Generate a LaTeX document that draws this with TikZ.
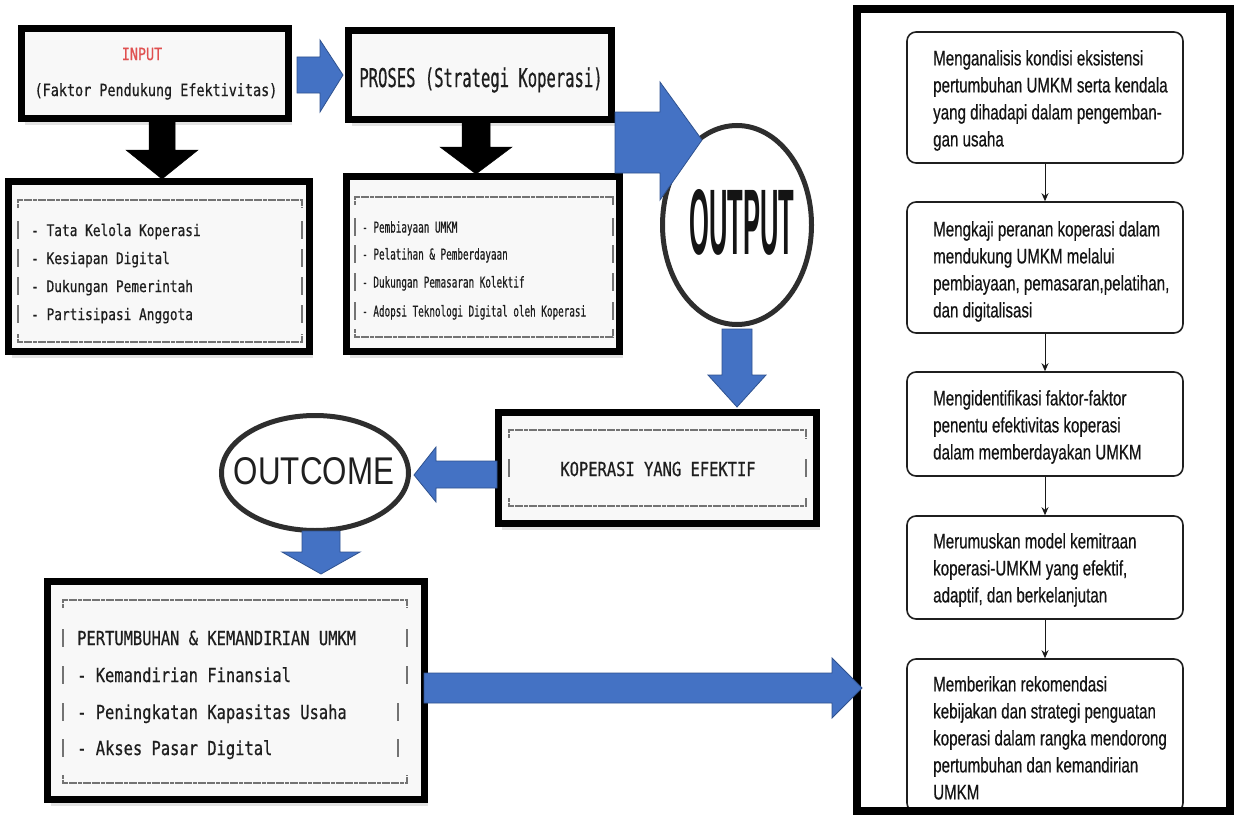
\documentclass[tikz,border=0pt]{standalone}
\usepackage{fontspec}
\newfontfamily\monof[FakeStretch=0.8,FakeBold=0.6]{DejaVu Sans Mono}
\newfontfamily\monoc[FakeStretch=0.62,FakeBold=0.5]{DejaVu Sans Mono}
\newfontfamily\monop[FakeStretch=0.6,FakeBold=0.6]{DejaVu Sans Mono}
\newfontfamily\rfont[FakeStretch=0.72,FakeBold=0.5]{Liberation Sans}
\newfontfamily\sansf{Liberation Sans}
\usetikzlibrary{shadows,shapes.geometric,arrows.meta}
\definecolor{ablue}{HTML}{4472C4}
\definecolor{ablueline}{HTML}{2F528F}
\definecolor{inred}{HTML}{E05050}
\definecolor{boxfill}{HTML}{F8F8F8}
\definecolor{txt}{HTML}{1E1E1E}
\newcommand{\asciiframe}[5]{%
  \draw[asciil] (#1,#2+8) -- (#1,#2) -- (#3,#2) -- (#3,#2+8);
  \draw[asciil] (#1,#4-8) -- (#1,#4) -- (#3,#4) -- (#3,#4-8);
  \foreach \yy in {#5} {
    \draw[asciiv] (#1,\yy-9) -- (#1,\yy+9);
    \draw[asciiv] (#3,\yy-9) -- (#3,\yy+9);
  }%
}
\begin{document}
\begin{tikzpicture}[x=1pt,y=-1pt,
  bbox/.style={draw=black, line width=7pt, fill=boxfill, inner sep=0pt,
    drop shadow={opacity=0.22, shadow xshift=3pt, shadow yshift=-6pt}},
  oval/.style={ellipse, draw=black!82, line width=5pt, fill=white, inner sep=0pt},
  blk/.style={fill=ablue, draw=ablueline, line width=0.8pt},
  blackarrow/.style={fill=black, draw=black, line width=0.5pt},
  asciil/.style={draw=black!55, line width=1.3pt, dash pattern=on 4pt off 0.6pt},
  asciiv/.style={draw=black!55, line width=1.2pt},
  rbox/.style={draw=black!88, line width=1.6pt, rounded corners=9pt, fill=white, inner sep=0pt, minimum width=276pt},
  rtext/.style={anchor=north west, inner sep=0pt, align=left, text=black!92,
    font=\rfont\fontsize{21}{27}\selectfont},
  mtext/.style={anchor=base west, inner sep=0pt, text=txt, font=\monof\fontsize{16}{20}\selectfont},
  ctext/.style={anchor=base west, inner sep=0pt, text=txt, font=\monoc\fontsize{15}{18}\selectfont},
  ktext/.style={anchor=base west, inner sep=0pt, text=txt, font=\monof\fontsize{19.3}{22}\selectfont},
  conn/.style={line width=1pt, draw=black!90, -{Stealth[length=8pt,width=7pt]}}
]
\useasboundingbox (0,0) rectangle (1234,816);
\fill[white] (0,0) rectangle (1234,816);

% ---------- top left boxes ----------
\node[bbox, minimum width=267pt, minimum height=90pt] (inbox) at (155,73.5) {};
\node[bbox, minimum width=263pt, minimum height=89pt] (prbox) at (480,75) {};
\node[inner sep=0pt, text=inred, font=\monof\fontsize{16.8}{20}\selectfont] (intitle) at (142,54) {INPUT};
\node[anchor=base, inner sep=0pt, text=txt, font=\monof\fontsize{16.8}{20}\selectfont] (insub) at (156,96) {(Faktor Pendukung Efektivitas)};
\node[anchor=base, inner sep=0pt, text=txt, font=\monop\fontsize{25.9}{30}\selectfont] (prtitle) at (481,87) {PROSES (Strategi Koperasi)};

% blue arrow input -> proses
\draw[blk] (297,57) -- (320,57) -- (320,40) -- (343,75) -- (320,112) -- (320,93) -- (297,93) -- cycle;

% black arrows down
\draw[blackarrow] (149,120) -- (175,120) -- (175,150) -- (198,150) -- (162,179) -- (126,150) -- (149,150) -- cycle;
\draw[blackarrow] (462,121) -- (490,121) -- (490,147) -- (512,147) -- (476,174) -- (440,147) -- (462,147) -- cycle;

% ---------- factor boxes ----------
\node[bbox, minimum width=301pt, minimum height=170pt] (fbox) at (159,266.5) {};
\asciiframe{18}{200}{302}{342}{230,258,286,314}
\node[mtext] (f1) at (31,236) {- Tata Kelola Koperasi};
\node[mtext] (f2) at (31,264) {- Kesiapan Digital};
\node[mtext] (f3) at (31,292) {- Dukungan Pemerintah};
\node[mtext] (f4) at (31,320) {- Partisipasi Anggota};

\node[bbox, minimum width=273pt, minimum height=175pt] (sbox) at (483,264) {};
\asciiframe{355}{197}{613}{337}{227,254,282,311}
\node[ctext] (s1) at (362,232.5) {- Pembiayaan UMKM};
\node[ctext] (s2) at (362,259.5) {- Pelatihan \& Pemberdayaan};
\node[ctext] (s3) at (362,287.5) {- Dukungan Pemasaran Kolektif};
\node[ctext] (s4) at (362,316.5) {- Adopsi Teknologi Digital oleh Koperasi};

% ---------- OUTPUT ----------
\node[oval, minimum width=149pt, minimum height=199pt] (output) at (737,225) {};
\node[inner sep=0pt, text=black!92] (outputtxt) at (742,222) {\resizebox{105pt}{65pt}{\sansf\bfseries OUTPUT}};
\draw[blk] (615,112) -- (660,112) -- (660,82) -- (702,140) -- (660,200) -- (660,173) -- (615,173) -- cycle;
\draw[blk] (722,329) -- (752,329) -- (752,375) -- (766,375) -- (737,407) -- (708,375) -- (722,375) -- cycle;

% ---------- KOPERASI ----------
\node[bbox, minimum width=318pt, minimum height=111pt] (kbox) at (657.5,468) {};
\asciiframe{509}{430}{806}{506}{468}
\node[inner sep=0pt, text=txt, font=\monof\fontsize{19.3}{22}\selectfont] (ktxt) at (658,469) {KOPERASI YANG EFEKTIF};
\draw[blk] (497,461) -- (436,461) -- (436,447) -- (414,475) -- (436,502) -- (436,488) -- (497,488) -- cycle;

% ---------- OUTCOME ----------
\node[oval, minimum width=187pt, minimum height=115pt] (outcome) at (315,473) {};
\node[inner sep=0pt, text=black!88] (outcometxt) at (314,471) {\resizebox{160pt}{27pt}{\sansf OUTCOME}};
\draw[blk] (302,531) -- (340,531) -- (340,552) -- (360,552) -- (321,574) -- (282,552) -- (302,552) -- cycle;

% ---------- PERTUMBUHAN ----------
\node[bbox, minimum width=377pt, minimum height=218pt] (pbox) at (236,690.5) {};
\draw[asciil] (63,608) -- (63,600) -- (407,600) -- (407,608);
\draw[asciil] (63,775) -- (63,783) -- (407,783) -- (407,775);
\foreach \yy/\xr in {638/407,675/407,712/398,748/398} {
  \draw[asciiv] (63,\yy-9) -- (63,\yy+9);
  \draw[asciiv] (\xr,\yy-9) -- (\xr,\yy+9);
}
\node[ktext] (p1) at (77,645) {PERTUMBUHAN \& KEMANDIRIAN UMKM};
\node[ktext] (p2) at (77,682) {- Kemandirian Finansial};
\node[ktext] (p3) at (77,719) {- Peningkatan Kapasitas Usaha};
\node[ktext] (p4) at (77,755) {- Akses Pasar Digital};

% ---------- right panel ----------
\node[rbox, minimum height=131pt] (r1) at (1045,97.5) {};
\node[rbox, minimum height=131pt] (r2) at (1045,267.5) {};
\node[rbox, minimum height=104pt] (r3) at (1045,424) {};
\node[rbox, minimum height=103pt] (r4) at (1045,567.5) {};
\node[rbox, minimum height=153pt] (r5) at (1045,735.5) {};
\draw[conn] (r1.south) -- (r2.north);
\draw[conn] (r2.south) -- (r3.north);
\draw[conn] (r3.south) -- (r4.north);
\draw[conn] (r4.south) -- (r5.north);
\node[rtext] (t1) at (933,50) {Menganalisis kondisi eksistensi\\pertumbuhan UMKM serta kendala\\yang dihadapi dalam pengemban-\\gan usaha};
\node[rtext] (t2) at (933,221) {Mengkaji peranan koperasi dalam\\mendukung UMKM melalui\\pembiayaan, pemasaran,pelatihan,\\dan digitalisasi};
\node[rtext] (t3) at (933,390) {Mengidentifikasi faktor-faktor\\penentu efektivitas koperasi\\dalam memberdayakan UMKM};
\node[rtext] (t4) at (933,533) {Merumuskan model kemitraan\\koperasi-UMKM yang efektif,\\adaptif, dan berkelanjutan};
\node[rtext] (t5) at (933,676) {Memberikan rekomendasi\\kebijakan dan strategi penguatan\\koperasi dalam rangka mendorong\\pertumbuhan dan kemandirian\\UMKM};
\draw[line width=8pt, draw=black] (857,9) rectangle (1230,811);

% big arrow to right panel
\draw[blk] (424,673) -- (832,673) -- (832,658) -- (862,688) -- (832,718) -- (832,703) -- (424,703) -- cycle;
\end{tikzpicture}
\end{document}
